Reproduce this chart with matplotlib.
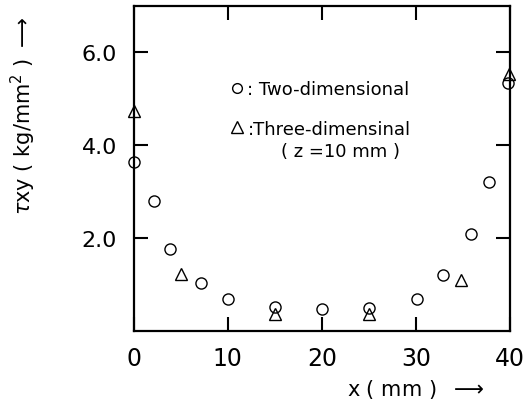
"""Shear stress distribution tau_xy along x: 2D vs 3D analysis."""
import matplotlib
matplotlib.use("Agg")
import matplotlib.pyplot as plt
from matplotlib.lines import Line2D

# ── data ─────────────────────────────────────────────────────────────────────
x_2d = [0, 2.1, 3.9, 7.1, 10.0, 15.0, 20.0, 25.0, 30.1, 32.9, 35.9, 37.8, 39.8]
tau_2d = [3.63, 2.81, 1.76, 1.03, 0.69, 0.51, 0.48, 0.50, 0.69, 1.21, 2.10, 3.20, 5.35]

x_3d = [0, 5.0, 15.0, 25.0, 34.8, 39.9]
tau_3d = [4.73, 1.23, 0.37, 0.37, 1.10, 5.53]

x_ticks = [0, 10, 20, 30, 40]
x_ticklabels = ["0", "10", "20", "30", "40"]
y_ticks = [2.0, 4.0, 6.0]
y_ticklabels = ["2.0", "4.0", "6.0"]

# ── figure ───────────────────────────────────────────────────────────────────
fig = plt.figure(figsize=(5.31, 4.06), dpi=100)
ax = fig.add_axes([0.252, 0.182, 0.708, 0.801])

mk = dict(linestyle="none", markerfacecolor="none", markeredgecolor="black",
          markeredgewidth=1.0, clip_on=False, zorder=3)
ax.plot(x_2d, tau_2d, marker="o", markersize=8, **mk)
ax.plot(x_3d, tau_3d, marker="^", markersize=9, **mk)

ax.set_xlim(0, 40)
ax.set_ylim(0, 7.0)

ax.set_xticks(x_ticks)
ax.set_xticklabels(x_ticklabels)
ax.set_yticks(y_ticks)
ax.set_yticklabels(y_ticklabels)
ax.tick_params(direction="in", length=10, width=1.5, top=True, right=True)
ax.tick_params(axis="x", labelsize=17, pad=11)
ax.tick_params(axis="y", labelsize=16, pad=12)

for sp in ax.spines.values():
    sp.set_linewidth(1.6)

ax.set_xlabel(r"x ( mm )  $\longrightarrow$", fontsize=15)
ax.xaxis.set_label_coords(0.75, -0.14)
ax.set_ylabel(r"$\mathit{\tau}$xy ( kg/mm$^2$ ) $\longrightarrow$", fontsize=15)
ax.yaxis.set_label_coords(-0.255, 0.665)

# legend
handles = [
    Line2D([], [], marker="o", markersize=7, linestyle="none",
           markerfacecolor="none", markeredgecolor="black"),
    Line2D([], [], marker="^", markersize=9, linestyle="none",
           markerfacecolor="none", markeredgecolor="black"),
]
ax.legend(handles, [": Two-dimensional", ":Three-dimensinal"],
          loc="upper left", bbox_to_anchor=(0.235, 0.794), frameon=False,
          fontsize=13, handlelength=0.8, handletextpad=0.2, labelspacing=1.2,
          borderaxespad=0)
ax.text(22.0, 3.87, "( z =10 mm )", fontsize=13, ha="center", va="center")

fig.savefig("out.png", dpi=100, facecolor="white")
